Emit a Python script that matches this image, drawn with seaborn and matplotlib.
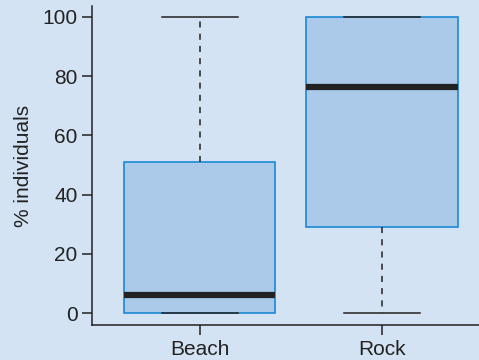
import pandas as pd
import matplotlib.pyplot as plt
import seaborn as sns

# five-number summaries (min, Q1, median, Q3, max)
beach = [0, 0, 6, 51, 100]
rock = [0, 29, 76.5, 100, 100]
sites = ["Beach", "Rock"]

df = pd.DataFrame({
    "site": ["Beach"] * len(beach) + ["Rock"] * len(rock),
    "pct": beach + rock,
})

bg = "#D4E3F3"
plt.rcParams["font.family"] = ["Liberation Sans", "DejaVu Sans"]

fig, ax = plt.subplots(figsize=(4.79, 3.6), dpi=100)
fig.patch.set_facecolor(bg)
ax.set_facecolor(bg)
fig.subplots_adjust(left=92 / 479, right=1.0, bottom=1 - 325 / 360, top=1 - 6 / 360)

sns.boxplot(data=df, x="site", y="pct", order=sites, ax=ax,
            color="#ABC9E9", linecolor="#1A8AD4", saturation=1,
            width=0.83, linewidth=1.2, whis=1.5, showfliers=False,
            whiskerprops=dict(color="#222222", linestyle=(0, (4, 4)), linewidth=1.1),
            capprops=dict(color="#222222", linewidth=1.1),
            medianprops=dict(color="#222222", linewidth=4.5, solid_capstyle="butt"))

ax.set_xlim(-0.593, 1.533)
ax.set_ylim(-4.05, 103.7)
ax.set_yticks([0, 20, 40, 60, 80, 100])
ax.set_xlabel("")
ax.set_ylabel("% individuals", fontsize=15, color="#222222", labelpad=7)
ax.tick_params(axis="both", labelsize=15, colors="#222222", length=7, width=1.1, pad=3.5)
for s in ["top", "right"]:
    ax.spines[s].set_visible(False)
for s in ["left", "bottom"]:
    ax.spines[s].set_color("#222222")
    ax.spines[s].set_linewidth(1.1)

fig.savefig("out.png", dpi=100, facecolor=bg)
